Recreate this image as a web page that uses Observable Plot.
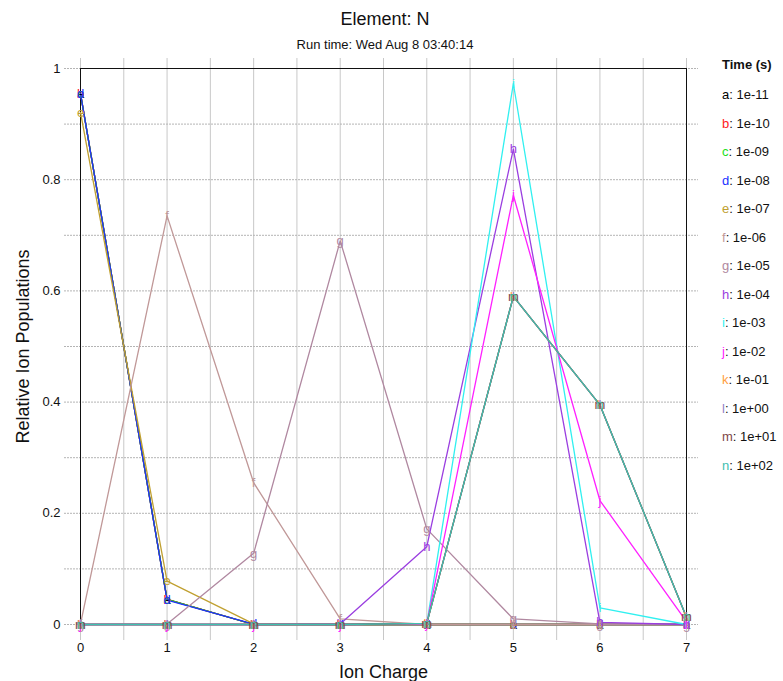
<!DOCTYPE html>
<html>
<head>
<meta charset="utf-8">
<script src="https://cdn.jsdelivr.net/npm/d3@7"></script>
<script src="https://cdn.jsdelivr.net/npm/@observablehq/plot@0.6"></script>
<style>
  body { margin: 0; background: #fff; font-family: "Liberation Sans", Arial, sans-serif; }
  #wrap { position: relative; width: 783px; height: 681px; overflow: hidden; }
  #wrap svg { position: absolute; left: 0; top: 0; }
  .title { position: absolute; left: 0; width: 770px; text-align: center; color: #111; }
  #legend { position: absolute; left: 722px; top: 56px; font-size: 13px; color: #111; }
  #legend div { height: 28.5px; line-height: 18px; }
  g[aria-label="x-axis label"], g[aria-label="y-axis label"] { font-size: 18px; }
</style>
</head>
<body>
<div id="wrap">
  <div class="title" style="top:8px;font-size:18px;line-height:22px;">Element: N</div>
  <div class="title" style="top:37px;font-size:13px;line-height:16px;">Run time: Wed Aug 8 03:40:14</div>
  <div id="legend"></div>
</div>
<script>
// Ion charge stages
const charges = [0, 1, 2, 3, 4, 5, 6, 7];
// Series letters, times and colours
const seriesLetters = ["a","b","c","d","e","f","g","h","i","j","k","l","m","n"];
const seriesTimes = ["1e-11","1e-10","1e-09","1e-08","1e-07","1e-06","1e-05","1e-04","1e-03","1e-02","1e-01","1e+00","1e+01","1e+02"];
const seriesColors = ["#000000","#ff2020","#20e020","#2030ff","#c0a030","#c09898","#b088a0","#9a3ee0","#30f0f0","#ff20ff","#ffa040","#9080c8","#804848","#40c0b0"];

// Relative ion populations per series (ion charge 0..7)
const popA = [0.955, 0.045, 0, 0, 0, 0, 0, 0];
const popB = [0.955, 0.045, 0, 0, 0, 0, 0, 0];
const popC = [0.955, 0.045, 0, 0, 0, 0, 0, 0];
const popD = [0.955, 0.044, 0.0005, 0, 0, 0, 0, 0];
const popE = [0.921, 0.078, 0.001, 0, 0, 0, 0, 0];
const popF = [0.001, 0.735, 0.255, 0.01, 0, 0, 0, 0];
const popG = [0, 0.001, 0.128, 0.69, 0.172, 0.01, 0.001, 0];
const popH = [0, 0, 0, 0.001, 0.14, 0.855, 0.004, 0];
const popI = [0, 0, 0, 0, 0.001, 0.973, 0.03, 0];
const popJ = [0, 0, 0, 0, 0.001, 0.772, 0.223, 0.005];
const popK = [0, 0, 0, 0, 0.002, 0.59, 0.395, 0.013];
const popL = [0, 0, 0, 0, 0.002, 0.59, 0.395, 0.013];
const popM = [0, 0, 0, 0, 0.002, 0.59, 0.395, 0.013];
const popN = [0, 0, 0, 0, 0.002, 0.59, 0.395, 0.013];

// Axis ticks and grid positions
const xTicks = [0, 1, 2, 3, 4, 5, 6, 7];
const yTicks = [0, 0.2, 0.4, 0.6, 0.8, 1];
const yTickLabels = ["0", "0.2", "0.4", "0.6", "0.8", "1"];
const xGrid = [0, 0.5, 1, 1.5, 2, 2.5, 3, 3.5, 4, 4.5, 5, 5.5, 6, 6.5, 7];
const yGrid = [0, 0.1, 0.2, 0.3, 0.4, 0.5, 0.6, 0.7, 0.8, 0.9, 1];

const allPops = [popA, popB, popC, popD, popE, popF, popG, popH, popI, popJ, popK, popL, popM, popN];
const rows = [];
allPops.forEach((vals, s) => {
  vals.forEach((v, i) => rows.push({series: seriesLetters[s], charge: charges[i], pop: v}));
});

const plot = Plot.plot({
  width: 783,
  height: 681,
  marginTop: 68,
  marginBottom: 57,
  marginLeft: 80,
  marginRight: 97,
  style: {fontFamily: "'Liberation Sans', Arial, sans-serif", fontSize: "13px", background: "transparent", color: "#111", overflow: "visible"},
  x: {domain: [0, 7], label: null},
  y: {domain: [0, 1], label: null},
  color: {domain: seriesLetters, range: seriesColors},
  marks: [
    Plot.ruleX(xGrid, {x: d => d, stroke: "#c8c8c8", strokeWidth: 1, insetTop: -10, insetBottom: -16}),
    Plot.ruleY(yGrid, {y: d => d, stroke: "#b4b4b4", strokeWidth: 1, strokeDasharray: "2,1", insetLeft: -16, insetRight: -12}),
    Plot.frame({stroke: "#111", strokeWidth: 1}),
    Plot.axisX({ticks: xTicks, tickFormat: d => String(d), tickSize: 0, tickPadding: 18, label: "Ion Charge", labelAnchor: "center", labelArrow: "none", labelOffset: 53}),
    Plot.axisY({ticks: yTicks, tickFormat: d => yTickLabels[yTicks.indexOf(d)], tickSize: 0, tickPadding: 20, label: "Relative Ion Populations", labelAnchor: "center", labelArrow: "none", labelOffset: 64}),
    Plot.line(rows, {x: "charge", y: "pop", z: "series", stroke: "series", strokeWidth: 1.3}),
    Plot.text(rows, {x: "charge", y: "pop", text: "series", fill: "series", fontSize: 13})
  ]
});
document.getElementById("wrap").prepend(plot);

const legend = document.getElementById("legend");
const head = document.createElement("div");
head.style.fontWeight = "bold";
head.style.height = "30px";
head.textContent = "Time (s)";
legend.appendChild(head);
seriesLetters.forEach((l, i) => {
  const row = document.createElement("div");
  const sp = document.createElement("span");
  sp.style.color = seriesColors[i];
  sp.textContent = l;
  row.appendChild(sp);
  row.appendChild(document.createTextNode(": " + seriesTimes[i]));
  legend.appendChild(row);
});
</script>
</body>
</html>
